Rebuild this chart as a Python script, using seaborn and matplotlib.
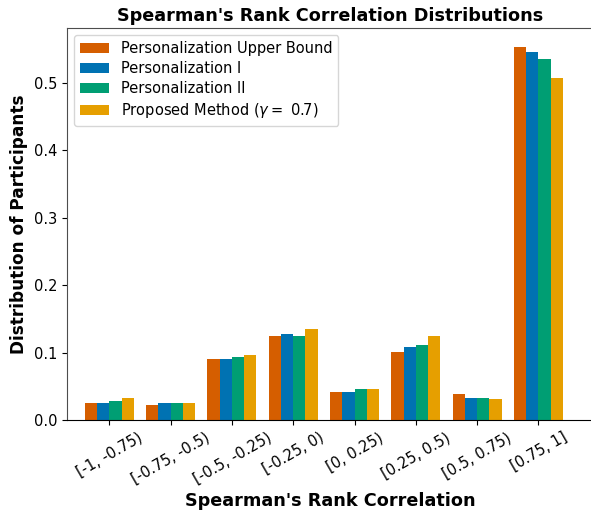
import pandas as pd
import seaborn as sns
import matplotlib.pyplot as plt

# Bin labels and per-method fractions
bins = ['[-1, -0.75)', '[-0.75, -0.5)', '[-0.5, -0.25)', '[-0.25, 0)',
        '[0, 0.25)', '[0.25, 0.5)', '[0.5, 0.75)', '[0.75, 1]']
methods = ['Personalization Upper Bound', 'Personalization I',
           'Personalization II', r'Proposed Method ($\gamma=$ 0.7)']
upper_bound = [0.025, 0.022, 0.090, 0.125, 0.041, 0.101, 0.039, 0.553]
pers_one = [0.025, 0.025, 0.090, 0.128, 0.041, 0.108, 0.033, 0.546]
pers_two = [0.028, 0.025, 0.093, 0.125, 0.046, 0.111, 0.033, 0.536]
proposed = [0.033, 0.025, 0.096, 0.135, 0.046, 0.125, 0.031, 0.507]
colors = ['#D55E00', '#0072B2', '#009E73', '#E69F00']

rows = []
for name, vals in zip(methods, [upper_bound, pers_one, pers_two, proposed]):
    for b, v in zip(bins, vals):
        rows.append({'bin': b, 'method': name, 'value': v})
df = pd.DataFrame(rows)

sns.set_style('ticks')
plt.rcParams['font.family'] = ['DejaVu Sans']
plt.rcParams.update({'text.color': 'black', 'axes.labelcolor': 'black',
                     'xtick.color': 'black', 'ytick.color': 'black'})

fig = plt.figure(figsize=(5.91, 5.12), dpi=100)
ax = fig.add_axes([67 / 591, 1 - 420 / 512, (593 - 67) / 591, (420 - 28) / 512])

sns.barplot(data=df, x='bin', y='value', hue='method', order=bins,
            hue_order=methods, palette=colors, ax=ax, saturation=1,
            linewidth=0)

ax.set_xlim(-0.69, 7.89)
ax.set_ylim(0, 0.5816)
ax.set_title("Spearman's Rank Correlation Distributions",
             fontsize=12.7, fontweight='bold', pad=5)
ax.set_xlabel("Spearman's Rank Correlation", fontsize=12.7, fontweight='bold')
ax.set_ylabel('Distribution of Participants', fontsize=12.2, fontweight='bold')
ax.tick_params(axis='both', labelsize=10.5)
plt.setp(ax.get_xticklabels(), rotation=30, ha='center')
for s in ax.spines.values():
    s.set_visible(True)
    s.set_color('0.3')
ax.spines['bottom'].set_color('black')

ax.legend(loc='upper left', fontsize=10.5, frameon=True, handlelength=2.0,
          borderaxespad=0.5, labelspacing=0.35)

fig.savefig('out.png', dpi=100)
